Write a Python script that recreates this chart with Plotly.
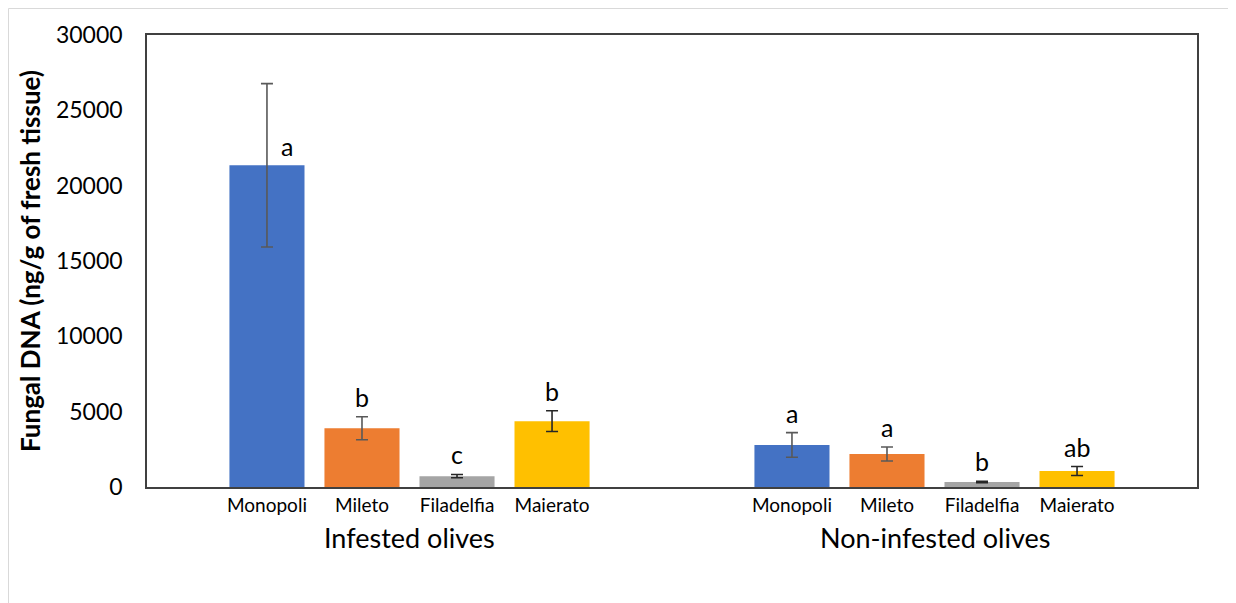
import plotly.graph_objects as go

groups = ["Infested olives", "Non-infested olives"]
sites = ["Monopoli", "Mileto", "Filadelfia", "Maierato"]
colors = ["#4472C4", "#ED7D31", "#A5A5A5", "#FFC000"]
err_colors = ["#595959", "#595959", "#262626", "#262626"]

# values[site] = [infested, non-infested]
values = {
    "Monopoli": [21350, 2790],
    "Mileto": [3900, 2190],
    "Filadelfia": [720, 330],
    "Maierato": [4370, 1060],
}
errors = {
    "Monopoli": [5420, 820],
    "Mileto": [760, 460],
    "Filadelfia": [110, 50],
    "Maierato": [690, 300],
}
letters = {
    "Monopoli": ["a", "a"],
    "Mileto": ["b", "a"],
    "Filadelfia": ["c", "b"],
    "Maierato": ["b", "ab"],
}

FONT = "Lato, Open Sans, sans-serif"
YMAX = 30000
bargap = 0.276
groupgap = 0.21
nser = len(sites)
slot = (1 - bargap) / nser

fig = go.Figure()
gx = list(range(len(groups)))
for i, s in enumerate(sites):
    fig.add_trace(go.Bar(
        x=gx, y=values[s], name=s,
        marker=dict(color=colors[i], line=dict(width=0)),
        error_y=dict(type="data", array=errors[s], color=err_colors[i],
                     thickness=1.6, width=6),
        showlegend=False,
    ))

tickvals, ticktext = [], []
annotations = []
for i, s in enumerate(sites):
    off = (i - (nser - 1) / 2) * slot
    for g in gx:
        xpos = g + off
        tickvals.append(xpos)
        ticktext.append(s)
        v, e = values[s][g], errors[s][g]
        if e > 0.1 * YMAX:
            annotations.append(dict(x=xpos, y=v, xref="x", yref="y",
                                    text=letters[s][g], showarrow=False,
                                    yanchor="bottom", xshift=20, yshift=2,
                                    font=dict(family=FONT, size=25, color="#000")))
        else:
            annotations.append(dict(x=xpos, y=v + e, xref="x", yref="y",
                                    text=letters[s][g], showarrow=False,
                                    yanchor="bottom", yshift=3,
                                    font=dict(family=FONT, size=25, color="#000")))

for g, name in zip(gx, groups):
    annotations.append(dict(x=g, y=0, xref="x", yref="paper", text=name,
                            showarrow=False, yanchor="top", yshift=-32,
                            font=dict(family=FONT, size=27, color="#000")))

fig.update_layout(
    width=1228, height=595,
    margin=dict(l=139, r=39, t=27, b=116),
    paper_bgcolor="white", plot_bgcolor="white",
    barmode="group", bargap=bargap, bargroupgap=groupgap,
    font=dict(family=FONT, color="#000"),
    annotations=annotations,
    shapes=[dict(type="rect", xref="paper", yref="paper",
                 x0=-0.1319, x1=1.0362, y0=-0.4, y1=1.0586,
                 line=dict(color="#D9D9D9", width=1), layer="below")],
)
fig.update_xaxes(
    range=[-0.5, 1.5], tickmode="array", tickvals=tickvals, ticktext=ticktext,
    tickangle=0, tickfont=dict(family=FONT, size=19, color="#000"),
    showline=True, linecolor="#404040", linewidth=1.5, mirror=True,
    ticks="", showgrid=False, zeroline=False,
)
fig.update_yaxes(
    range=[0, YMAX], dtick=5000, tickformat="d",
    tickfont=dict(family=FONT, size=23, color="#000"),
    ticklabelstandoff=18,
    showline=True, linecolor="#404040", linewidth=1.5, mirror=True,
    ticks="", showgrid=False, zeroline=False,
    title=dict(text="<b>Fungal DNA (ng/g of fresh tissue)</b>",
               font=dict(family=FONT, size=26, color="#000"), standoff=8),
)

fig.write_html("out.html")
